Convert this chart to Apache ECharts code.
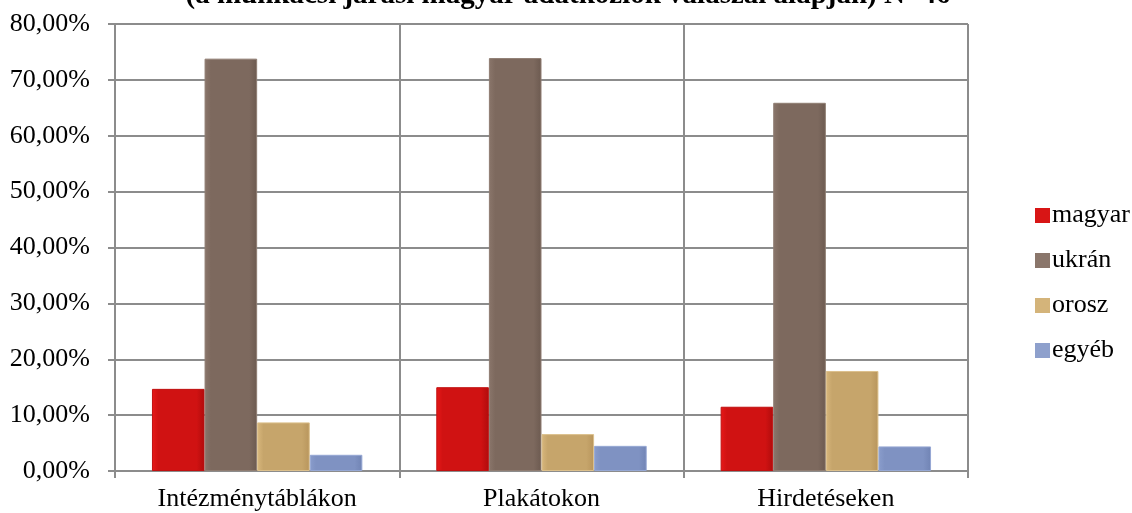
<!DOCTYPE html>
<html>
<head>
<meta charset="utf-8">
<script src="https://cdn.jsdelivr.net/npm/echarts@6/dist/echarts.min.js"></script>
<style>
  html, body { margin: 0; padding: 0; background: #ffffff; }
  #chart { width: 1132px; height: 513px; }
</style>
</head>
<body>
<div id="chart"></div>
<script>
// Categories: where the language appears
const categories = ['Intézménytáblákon', 'Plakátokon', 'Hirdetéseken'];

// Share of answers per language (%)
const magyar = [14.7, 15.0, 11.5];
const ukran  = [73.8, 73.9, 65.9];
const orosz  = [8.7, 6.6, 17.9];
const egyeb  = [2.9, 4.5, 4.4];

const seriesNames = ['magyar', 'ukrán', 'orosz', 'egyéb'];

// Y axis ticks (%)
const yMin = 0;
const yMax = 80;
const yStep = 10;

const titleText = '(a munkácsi járási magyar adatközlők válaszai alapján) N=46';

const serif = '"Liberation Serif", "Times New Roman", serif';
const gridGray = '#8c8c8c';

function barFill(light, mid, dark) {
  return new echarts.graphic.LinearGradient(0, 0, 1, 0, [
    { offset: 0, color: light },
    { offset: 0.12, color: mid },
    { offset: 0.85, color: mid },
    { offset: 1, color: dark }
  ]);
}

const styles = [
  { color: barFill('#e81818', '#d01212', '#b00c0c'), border: '#c01010', legend: '#d81515' },
  { color: barFill('#8a766b', '#7d695e', '#6c5a50'), border: '#8f7d72', legend: '#8a766b' },
  { color: barFill('#d8b77c', '#c6a56b', '#b8955c'), border: '#dcc08c', legend: '#d4b47a' },
  { color: barFill('#8a9dcc', '#7f92c2', '#7184b4'), border: '#96a8d4', legend: '#8ea0cc' }
];

const values = [magyar, ukran, orosz, egyeb];

const chart = echarts.init(document.getElementById('chart'), null, { renderer: 'canvas' });

chart.setOption({
  backgroundColor: '#ffffff',
  animation: false,
  title: {
    text: titleText,
    left: 563,
    textAlign: 'center',
    top: -24,
    textStyle: {
      fontFamily: serif,
      fontWeight: 'bold',
      fontSize: 29,
      color: '#000000'
    }
  },
  legend: {
    orient: 'vertical',
    left: 1030,
    top: 196,
    itemWidth: 15,
    itemHeight: 15,
    itemGap: 16,
    icon: 'rect',
    textStyle: { fontFamily: serif, fontSize: 26, lineHeight: 29, color: '#000000', padding: [0, 0, 0, -3] },
    data: seriesNames.map((n, i) => ({
      name: n,
      itemStyle: { color: styles[i].legend, borderColor: '#ffffff', borderWidth: 0 }
    }))
  },
  grid: {
    left: 115,
    right: 164,
    top: 24,
    bottom: 42,
    containLabel: false
  },
  xAxis: {
    type: 'category',
    data: categories,
    boundaryGap: true,
    axisLine: { show: true, lineStyle: { color: gridGray, width: 2 } },
    axisTick: { show: true, length: 7, lineStyle: { color: gridGray, width: 2 } },
    axisLabel: { fontFamily: serif, fontSize: 26, color: '#000000', margin: 15 },
    splitLine: { show: true, lineStyle: { color: gridGray, width: 2 } }
  },
  yAxis: {
    type: 'value',
    min: yMin,
    max: yMax,
    interval: yStep,
    axisLine: { show: true, lineStyle: { color: gridGray, width: 2 } },
    axisTick: { show: true, length: 7, lineStyle: { color: gridGray, width: 2 } },
    axisLabel: {
      fontFamily: serif,
      fontSize: 26,
      color: '#000000',
      margin: 25,
      formatter: v => v.toFixed(2).replace('.', ',') + '%'
    },
    splitLine: { show: true, lineStyle: { color: gridGray, width: 2 } }
  },
  series: seriesNames.map((name, i) => ({
    name: name,
    type: 'bar',
    data: values[i],
    barGap: '0%',
    barCategoryGap: '26%',
    itemStyle: {
      color: styles[i].color,
      borderColor: styles[i].border,
      borderWidth: 1
    }
  }))
});
</script>
</body>
</html>
